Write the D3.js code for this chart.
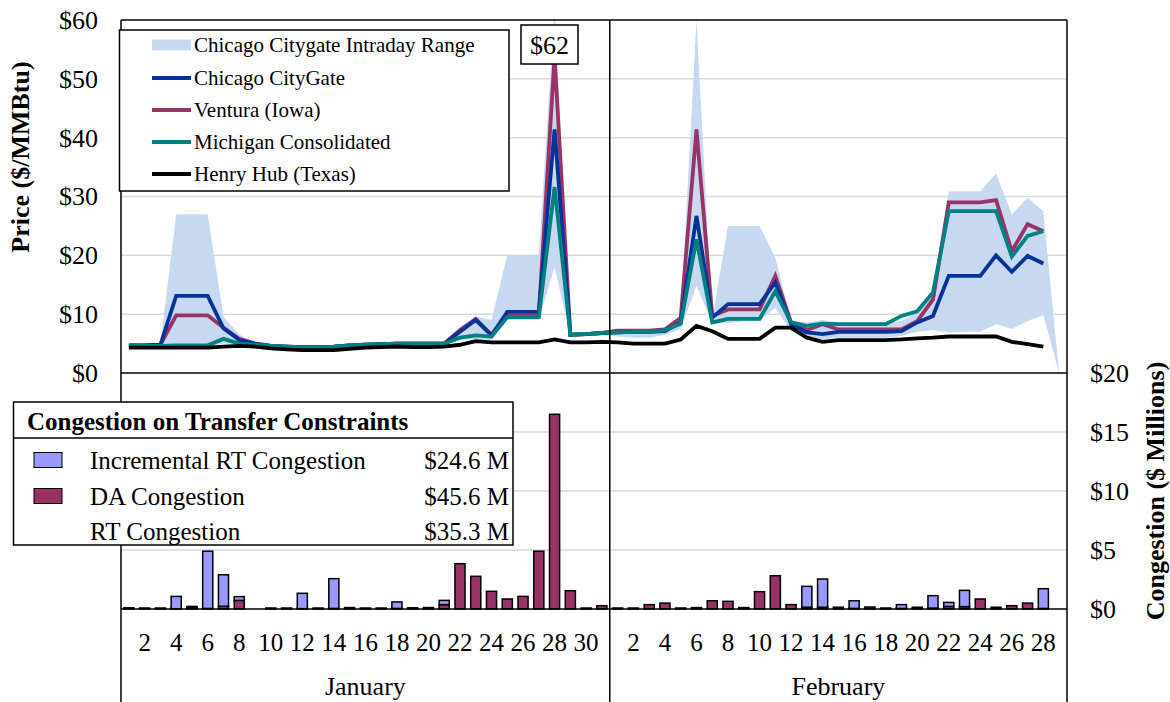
<!DOCTYPE html>
<html><head><meta charset="utf-8">
<script src="https://cdn.jsdelivr.net/npm/d3@7"></script>
<style>
body{margin:0;background:#fff}
svg{display:block}
text{font-family:"Liberation Serif","Times New Roman",serif;fill:#000}
</style>
</head><body>
<svg id="chart" width="1170" height="702"></svg>
<script>
// ---------------- DATA ----------------
const months = ["January", "February"];
const days = [1,2,3,4,5,6,7,8,9,10,11,12,13,14,15,16,17,18,19,20,21,22,23,24,25,26,27,28,29,30,31,
              1,2,3,4,5,6,7,8,9,10,11,12,13,14,15,16,17,18,19,20,21,22,23,24,25,26,27,28,29];
const monthIndex = [0,0,0,0,0,0,0,0,0,0,0,0,0,0,0,0,0,0,0,0,0,0,0,0,0,0,0,0,0,0,0,
                    1,1,1,1,1,1,1,1,1,1,1,1,1,1,1,1,1,1,1,1,1,1,1,1,1,1,1,1,1];

const chicago = [4.7,4.7,4.8,13.1,13.1,13.1,7.6,5.6,5.0,4.6,4.5,4.4,4.4,4.5,4.7,4.8,4.9,5.0,5.0,5.0,5.0,7.0,9.0,6.4,10.4,10.4,10.4,41.4,6.5,6.6,6.8,
                 6.9,7.0,7.0,7.1,8.6,26.7,9.4,11.7,11.7,11.7,15.4,8.3,6.9,6.6,7.0,7.0,7.0,7.0,7.1,8.6,9.7,16.5,16.5,16.5,20.0,17.2,19.9,18.6,null];
const ventura = [4.7,4.7,4.8,9.8,9.8,9.8,7.7,5.8,5.0,4.6,4.5,4.4,4.4,4.5,4.7,4.8,4.9,5.0,5.0,5.0,5.0,7.3,9.2,6.5,9.8,9.8,9.8,53.8,6.5,6.6,6.8,
                 7.2,7.2,7.2,7.4,9.4,41.4,9.7,10.8,10.8,10.8,16.5,8.6,7.3,8.3,7.4,7.4,7.4,7.4,7.4,8.8,12.5,29.0,29.0,29.0,29.4,20.7,25.3,24.1,null];
const michigan = [4.6,4.6,4.6,4.7,4.7,4.7,5.8,5.0,4.8,4.6,4.5,4.4,4.4,4.5,4.7,4.8,4.9,5.0,5.0,5.0,5.0,6.0,6.4,6.2,9.5,9.5,9.5,31.6,6.5,6.6,6.8,
                  6.9,7.0,7.0,7.3,8.4,22.7,8.6,9.2,9.2,9.2,13.9,8.6,8.0,8.4,8.3,8.3,8.3,8.3,9.7,10.5,13.7,27.5,27.5,27.5,27.5,19.8,23.3,24.1,null];
const henryHub = [4.3,4.3,4.3,4.3,4.3,4.3,4.5,4.6,4.5,4.2,4.0,3.9,3.9,3.9,4.1,4.3,4.4,4.5,4.4,4.4,4.5,4.8,5.4,5.2,5.2,5.2,5.2,5.7,5.2,5.2,5.3,
                  5.2,5.0,5.0,5.0,5.7,8.0,7.1,5.8,5.8,5.8,7.7,7.7,6.0,5.3,5.6,5.6,5.6,5.6,5.7,5.9,6.0,6.2,6.2,6.2,6.2,5.3,4.9,4.5,null];
const rangeHigh = [5.0,5.0,5.1,27,27,27,9.6,6.5,5.2,4.8,4.6,4.5,4.5,4.6,4.8,4.9,5.0,5.1,5.1,5.1,5.2,7.6,9.6,9.0,20,20,20,62,6.7,6.7,7.0,
                   7.1,7.4,7.4,7.8,9.6,60,9.2,25,25,25,19.6,8.8,8.6,9.0,8.6,8.6,8.6,8.6,8.8,10.4,13.8,30.9,30.9,30.9,33.9,27.0,29.8,27.5,0];
const rangeLow = [4.4,4.4,4.4,4.5,4.5,4.5,5.0,4.8,4.6,4.4,4.3,4.2,4.2,4.3,4.5,4.6,4.7,4.8,4.8,4.8,4.8,5.6,5.8,5.6,9.0,9.0,9.0,18,6.3,6.3,6.4,
                  6.2,6.0,6.0,6.5,7.5,14.8,8.4,8.5,8.8,8.8,11.1,7.0,6.0,5.8,6.0,6.0,6.0,6.0,6.3,7.0,7.3,6.9,7.0,7.0,8.3,7.5,8.8,9.8,0];

const daCongestion = [0.1,0.02,0.02,0.02,0.1,0.05,0.23,0.73,null,0.02,0.05,0.03,0.05,0.05,0.12,0.08,0.03,0.05,0.1,0.12,0.37,3.84,2.77,1.5,0.85,1.07,4.9,16.5,1.55,0.05,0.28,
                      0.02,0.02,0.37,0.5,0.02,0.12,0.7,0.65,0.12,1.47,2.82,0.37,0.15,0.15,0.15,0.05,0.17,0.05,0.05,0.15,0.08,0.22,0.2,0.85,0.15,0.28,0.5,0.05,null];
const incrRtCongestion = [0,0,0,1.05,0.12,4.85,2.67,0.32,null,0,0,1.3,0,2.52,0,0,0,0.55,0,0,0.36,0,0,0,0,0,0,0,0,0,0,
                          0,0,0,0,0,0,0,0,0,0,0,0,1.77,2.39,0,0.65,0,0,0.32,0,1.05,0.34,1.38,0,0,0,0,1.67,null];

const priceTicks = [0,10,20,30,40,50,60];
const congTicks = [0,5,10,15,20];
const priceLegend = ["Chicago Citygate Intraday Range","Chicago CityGate","Ventura (Iowa)","Michigan Consolidated","Henry Hub (Texas)"];
const congLegendTitle = "Congestion on Transfer Constraints";
const congLegend = ["Incremental RT Congestion","DA Congestion","RT Congestion"];
const congTotals = ["$24.6 M","$45.6 M","$35.3 M"];
const peakLabel = "$62";

// ---------------- STYLES ----------------
const C = {range:"#c6d9f0", chicago:"#003399", ventura:"#993366", michigan:"#008080", hh:"#000000",
           da:"#993366", incr:"#9999ff", grid:"#d9d9d9"};
const L = 121, R = 1067, T = 20, MID = 373, B = 609;

const svg = d3.select("#chart");
const idx = d3.range(days.length);
const x = d3.scaleBand().domain(idx).range([L, R]).paddingInner(0.36).paddingOuter(0.18);
const cx = i => x(i) + x.bandwidth()/2;
const yP = d3.scaleLinear().domain([0,60]).range([MID, T]);
const yC = d3.scaleLinear().domain([0,20]).range([B, MID]);

svg.append("defs").append("clipPath").attr("id","clipTop")
  .append("rect").attr("x",L).attr("y",T).attr("width",R-L).attr("height",MID-T);

// gridlines
svg.append("g").selectAll("line").data(priceTicks.filter(t=>t>0&&t<60)).join("line")
  .attr("x1",L).attr("x2",R).attr("y1",d=>yP(d)).attr("y2",d=>yP(d))
  .attr("stroke",C.grid).attr("stroke-width",1.5);
svg.append("g").selectAll("line").data(congTicks.filter(t=>t>0&&t<20)).join("line")
  .attr("x1",L).attr("x2",R).attr("y1",d=>yC(d)).attr("y2",d=>yC(d))
  .attr("stroke",C.grid).attr("stroke-width",1.5);

// range area
const topG = svg.append("g").attr("clip-path","url(#clipTop)");
topG.append("path").datum(idx)
  .attr("d", d3.area().x(i=>cx(i)).y0(i=>yP(rangeLow[i])).y1(i=>yP(rangeHigh[i])))
  .attr("fill", C.range);

const lineGen = arr => d3.line().defined(i=>arr[i]!=null).x(i=>cx(i)).y(i=>yP(arr[i]));
[[ventura,C.ventura],[chicago,C.chicago],[michigan,C.michigan],[henryHub,C.hh]].forEach(([arr,col])=>{
  topG.append("path").attr("d", lineGen(arr)(idx))
    .attr("fill","none").attr("stroke",col).attr("stroke-width",3.8).attr("stroke-linejoin","miter");
});

// bars
const bars = svg.append("g");
idx.forEach(i=>{
  const da = daCongestion[i], inc = incrRtCongestion[i];
  if (da == null) return;
  const h = Math.max(yC(0)-yC(da), 1);
  bars.append("rect").attr("x",x(i)).attr("width",x.bandwidth())
    .attr("y",yC(0)-h).attr("height",h)
    .attr("fill",C.da).attr("stroke","#000").attr("stroke-width",1.5);
  if (inc > 0) {
    bars.append("rect").attr("x",x(i)).attr("width",x.bandwidth())
      .attr("y",yC(da+inc)).attr("height",yC(da)-yC(da+inc))
      .attr("fill",C.incr).attr("stroke","#000").attr("stroke-width",1.5);
  }
});

// frame lines
const fr = svg.append("g").attr("stroke","#000").attr("stroke-width",1.5);
fr.append("line").attr("x1",L).attr("x2",R).attr("y1",T).attr("y2",T);
fr.append("line").attr("x1",L).attr("x2",R).attr("y1",MID).attr("y2",MID);
fr.append("line").attr("x1",L).attr("x2",R).attr("y1",B).attr("y2",B);
const divX = x(31) - x.step()*x.paddingInner()/2;
[L, divX, R].forEach(v=>fr.append("line").attr("x1",v).attr("x2",v).attr("y1",T).attr("y2",702));

// left axis labels
svg.append("g").selectAll("text").data(priceTicks).join("text")
  .attr("x",98).attr("y",d=>yP(d)).attr("dy","0.34em").attr("text-anchor","end")
  .attr("font-size",26).text(d=>"$"+d);
// right axis labels
svg.append("g").selectAll("text").data(congTicks).join("text")
  .attr("x",1090).attr("y",d=>yC(d)).attr("dy","0.34em").attr("text-anchor","start")
  .attr("font-size",26).text(d=>"$"+d);

// x tick labels
svg.append("g").selectAll("text").data(idx.filter(i=>days[i]%2===0)).join("text")
  .attr("x",i=>cx(i)).attr("y",651).attr("text-anchor","middle").attr("font-size",25)
  .text(i=>days[i]);
// month labels
months.forEach((m,k)=>{
  const x0 = k===0 ? L : divX, x1 = k===0 ? divX : R;
  svg.append("text").attr("x",(x0+x1)/2).attr("y",695).attr("text-anchor","middle")
    .attr("font-size",26).text(m);
});

// axis titles
svg.append("text").attr("transform","translate(29,157) rotate(-90)")
  .attr("text-anchor","middle").attr("font-size",26).attr("font-weight","bold").text("Price ($/MMBtu)");
svg.append("text").attr("transform","translate(1164,491) rotate(-90)")
  .attr("text-anchor","middle").attr("font-size",26).attr("font-weight","bold").text("Congestion ($ Millions)");

// peak label
const pk = svg.append("g");
pk.append("rect").attr("x",521).attr("y",25).attr("width",57).attr("height",39)
  .attr("fill","#fff").attr("stroke","#000").attr("stroke-width",1.5);
pk.append("text").attr("x",549.5).attr("y",45).attr("dy","0.34em").attr("text-anchor","middle")
  .attr("font-size",26).text(peakLabel);

// price legend
const lg = svg.append("g");
lg.append("rect").attr("x",119.5).attr("y",30).attr("width",389.5).attr("height",161)
  .attr("fill","#fff").attr("stroke","#000").attr("stroke-width",1.5);
const rowsY = [45,78,110,142,174];
const legCols = [C.range,C.chicago,C.ventura,C.michigan,C.hh];
priceLegend.forEach((t,k)=>{
  if (k===0) lg.append("rect").attr("x",152).attr("y",rowsY[k]-5.5).attr("width",39).attr("height",11).attr("fill",C.range);
  else lg.append("line").attr("x1",152).attr("x2",191).attr("y1",rowsY[k]).attr("y2",rowsY[k])
         .attr("stroke",legCols[k]).attr("stroke-width",4);
  lg.append("text").attr("x",194).attr("y",rowsY[k]).attr("dy","0.34em").attr("font-size",21).text(t);
});

// congestion legend
const cg = svg.append("g");
cg.append("rect").attr("x",13.5).attr("y",402).attr("width",499.5).attr("height",143)
  .attr("fill","#fff").attr("stroke","#000").attr("stroke-width",1.5);
cg.append("line").attr("x1",13.5).attr("x2",513).attr("y1",438).attr("y2",438).attr("stroke","#000").attr("stroke-width",1.5);
cg.append("text").attr("x",27).attr("y",421).attr("dy","0.34em").attr("font-size",25).attr("font-weight","bold").text(congLegendTitle);
const cRows = [460,496,531];
const cCols = [C.incr, C.da, null];
congLegend.forEach((t,k)=>{
  if (cCols[k]) cg.append("rect").attr("x",34).attr("y",cRows[k]-7.5).attr("width",28).attr("height",15)
    .attr("fill",cCols[k]).attr("stroke","#000").attr("stroke-width",1);
  cg.append("text").attr("x",90).attr("y",cRows[k]).attr("dy","0.34em").attr("font-size",25).text(t);
  cg.append("text").attr("x",509).attr("y",cRows[k]).attr("dy","0.34em").attr("text-anchor","end").attr("font-size",25).text(congTotals[k]);
});
</script>
</body></html>
